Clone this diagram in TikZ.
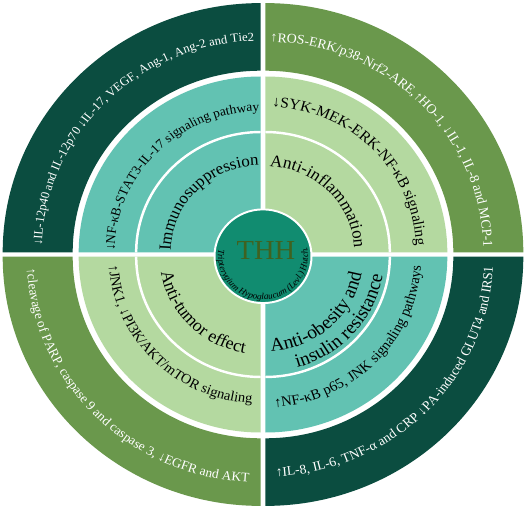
\documentclass[tikz,border=0pt]{standalone}
\usepackage{fontspec}
\setmainfont{Liberation Serif}
\usetikzlibrary{decorations.text}
\definecolor{darkq}{HTML}{0B4D40}
\definecolor{oliveq}{HTML}{6A984C}
\definecolor{tealq}{HTML}{62C2B2}
\definecolor{lightq}{HTML}{B4D9A0}
\definecolor{circq}{HTML}{118C70}
\definecolor{thhtext}{HTML}{3F6220}
\tikzset{
  ringline/.style={white, line width=2.5pt},
  arctext/.style n args={3}{decorate, decoration={text along path, text align=center,
      text={|\fontsize{#2}{#2}\selectfont\color{#1}|#3}}},
}
\begin{document}
\begin{tikzpicture}
\useasboundingbox (-263pt,-253.5pt) rectangle (263pt,254.5pt);
\fill[white] (-263pt,-253.5pt) rectangle (263pt,254.5pt);
\begin{scope}[transform canvas={yscale=0.9658}]
  % ---------- top left ----------
  \begin{scope}[shift={(-2.3pt,2.3pt)}]
    \fill[darkq] (180:258pt) arc[start angle=180,end angle=90,radius=258pt] -- (90:188pt) arc[start angle=90,end angle=180,radius=188pt] -- cycle;
    \fill[tealq] (0pt,0pt) -- (180:182pt) arc[start angle=180,end angle=90,radius=182pt] -- cycle;
    \draw[ringline] (180:124.5pt) arc[start angle=180,end angle=90,radius=124.5pt];
    \path[arctext={white}{12.7}{↓IL-12p40 and IL-12p70 ↓IL-17, VEGF, Ang-1, Ang-2 and Tie2}] (179.5:219pt) arc[start angle=179.5,end angle=90.5,radius=219pt];
    \path[arctext={black}{13.5}{↓NF-κB-STAT3-IL-17 signaling pathway}] (179:146pt) arc[start angle=179,end angle=91,radius=146pt];
    \path[arctext={black}{17}{Immunosuppression}] (179:90pt) arc[start angle=179,end angle=91,radius=90pt];
  \end{scope}
  % ---------- top right ----------
  \begin{scope}[shift={(2.3pt,2.3pt)}]
    \fill[oliveq] (90:258pt) arc[start angle=90,end angle=0,radius=258pt] -- (0:188pt) arc[start angle=0,end angle=90,radius=188pt] -- cycle;
    \fill[lightq] (0pt,0pt) -- (90:182pt) arc[start angle=90,end angle=0,radius=182pt] -- cycle;
    \draw[ringline] (90:124.5pt) arc[start angle=90,end angle=0,radius=124.5pt];
    \path[arctext={white}{13.8}{↑ROS-ERK/p38-Nrf2-ARE,↑HO-1, ↓IL-1, IL-8 and MCP-1}] (89.5:218pt) arc[start angle=89.5,end angle=0.5,radius=218pt];
    \path[arctext={black}{15.5}{↓SYK-MEK-ERK-NF-κB signaling}] (89:151pt) arc[start angle=89,end angle=1,radius=151pt];
    \path[arctext={black}{17.5}{Anti-inflammation}] (89:89pt) arc[start angle=89,end angle=1,radius=89pt];
  \end{scope}
  % ---------- bottom left ----------
  \begin{scope}[shift={(-2.3pt,-2.3pt)}]
    \fill[oliveq] (180:258pt) arc[start angle=180,end angle=270,radius=258pt] -- (270:188pt) arc[start angle=270,end angle=180,radius=188pt] -- cycle;
    \fill[lightq] (0pt,0pt) -- (180:182pt) arc[start angle=180,end angle=270,radius=182pt] -- cycle;
    \draw[ringline] (180:124.5pt) arc[start angle=180,end angle=270,radius=124.5pt];
    \path[arctext={white}{13.5}{↑cleavage of PARP, caspase 9 and caspase 3, ↓EGFR and AKT}] (180.5:234pt) arc[start angle=180.5,end angle=269.5,radius=234pt];
    \path[arctext={black}{14.5}{↑JNK1, ↓PI3K/AKT/mTOR signaling}] (181:152pt) arc[start angle=181,end angle=269,radius=152pt];
    \path[arctext={black}{18}{Anti-tumor effect}] (181:101pt) arc[start angle=181,end angle=269,radius=101pt];
  \end{scope}
  % ---------- bottom right ----------
  \begin{scope}[shift={(2.3pt,-2.3pt)}]
    \fill[darkq] (270:258pt) arc[start angle=270,end angle=360,radius=258pt] -- (0:188pt) arc[start angle=360,end angle=270,radius=188pt] -- cycle;
    \fill[tealq] (0pt,0pt) -- (270:182pt) arc[start angle=270,end angle=360,radius=182pt] -- cycle;
    \draw[ringline] (270:124.5pt) arc[start angle=270,end angle=360,radius=124.5pt];
    \path[arctext={white}{13.7}{↑IL-8, IL-6, TNF-α and CRP ↓PA-induced GLUT4 and IRS1}] (270.5:228pt) arc[start angle=270.5,end angle=359.5,radius=228pt];
    \path[arctext={black}{14.8}{↑NF-κB p65, JNK signaling pathways}] (271:156pt) arc[start angle=271,end angle=359,radius=156pt];
    \path[arctext={black}{19.5}{Anti-obesity and}] (268:98pt) arc[start angle=268,end angle=355,radius=98pt];
    \path[arctext={black}{19.5}{insulin resistance}] (276:119pt) arc[start angle=276,end angle=360,radius=119pt];
  \end{scope}
  % ---------- centre ----------
  \node[circle, fill=circq, draw=white, line width=2pt, minimum size=97pt, inner sep=0pt] (core) at (0pt,-1.8pt) {};
  \node[text=thhtext, font=\fontsize{28.5}{30}\selectfont, inner sep=0pt] (thh) at (3pt,4pt) {THH};
  \path[decorate, decoration={text along path, text align=center,
      text={|\fontsize{9.3}{10}\selectfont\itshape\color{black}|Tripterygium Hypoglaucum (Levl.) Hutch.}},
      shift={(0pt,-1.8pt)}] (166:45pt) arc[start angle=166,end angle=377,radius=45pt];
\end{scope}
\end{tikzpicture}
\end{document}
